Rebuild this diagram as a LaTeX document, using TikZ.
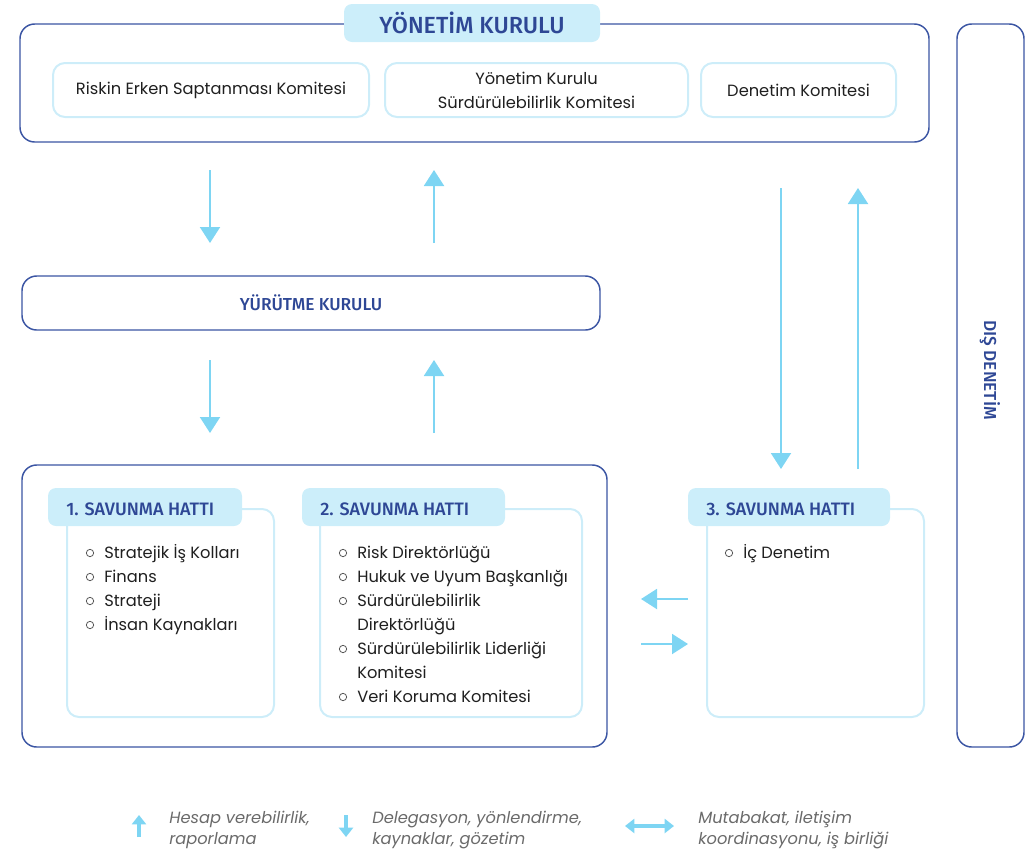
\documentclass[tikz,border=0pt]{standalone}
\usepackage{fontspec}
\setmainfont{Poppins}
\newfontfamily\hdr{Fira Sans}[UprightFont=* Medium]
\usetikzlibrary{arrows.meta,fit}
\definecolor{navy}{HTML}{2E4795}
\definecolor{navyline}{HTML}{3B55A3}
\definecolor{tabfill}{HTML}{CCEEFA}
\definecolor{lite}{HTML}{CDEDF9}
\definecolor{arrowc}{HTML}{7ED5F3}
\definecolor{txt}{HTML}{1F1F1F}
\definecolor{legtxt}{HTML}{6A6A6A}
\definecolor{bulc}{HTML}{555555}
\begin{document}
\begin{tikzpicture}[x=0.75pt,y=-0.75pt,
  navybox/.style={draw=navyline,line width=1.1pt,rounded corners=11pt,inner sep=0pt},
  litebox/.style={draw=lite,line width=1.5pt,rounded corners=9pt,inner sep=0pt},
  tabbox/.style={fill=tabfill,rounded corners=6pt,inner sep=0pt},
  flow/.style={draw=arrowc,line width=1.5pt,-{Triangle[width=15pt,length=12pt]}},
  legarrow/.style={draw=arrowc,line width=3pt,-{Triangle[width=10.5pt,length=7pt]}},
  legdouble/.style={draw=arrowc,line width=3pt,{Triangle[width=10.5pt,length=7pt]}-{Triangle[width=10.5pt,length=7pt]}},
  title/.style={font=\hdr\fontsize{17.5}{20}\selectfont,text=navy},
  head/.style={font=\hdr\fontsize{13.5}{16}\selectfont,text=navy,anchor=west,inner sep=0pt},
  body/.style={font=\fontsize{12.2}{18}\selectfont,text=txt,align=center},
  item/.style={font=\fontsize{12.2}{18}\selectfont,text=txt,anchor=base west,inner sep=0pt},
  bul/.style={circle,draw=bulc,line width=0.6pt,minimum size=5.5pt,inner sep=0pt},
  leg/.style={font=\itshape\fontsize{12.2}{15.75}\selectfont,text=legtxt,anchor=base west,inner sep=0pt}
]
\useasboundingbox (0,0) rectangle (1029,850);

% Yonetim Kurulu
\node[navybox,fit={(20,24)(929,142)}] (yk) {};
\node[tabbox,fit={(344,4)(600,42)}] (yktab) {};
\node[title] at (yktab) {YÖNETİM KURULU};
\node[litebox,fit={(53,63)(369,117)}] (c1) {};
\node[body] at (c1) {Riskin Erken Saptanması Komitesi};
\node[litebox,fit={(385,63)(688,117)}] (c2) {};
\node[body] at (c2) {Yönetim Kurulu\\Sürdürülebilirlik Komitesi};
\node[litebox,fit={(701,63)(896,117)}] (c3) {};
\node[body] at (c3) {Denetim Komitesi};

% Dis denetim
\node[navybox,fit={(957,24)(1024,747)}] (dis) {};
\node[rotate=-90,font=\hdr\fontsize{13}{15}\selectfont,text=navy] at (990,370) {DIŞ DENETİM};

% Yurutme Kurulu
\node[navybox,fit={(22,276)(600,330)}] (yur) {};
\node[font=\hdr\fontsize{13}{15}\selectfont,text=navy] at (311,303) {YÜRÜTME KURULU};

% bottom group
\node[navybox,fit={(22,465)(607,747)}] (grp) {};

% 1. savunma
\node[litebox,fit={(67,509)(274,717)}] (s1) {};
\node[tabbox,fit={(48,488)(242,526)}] (s1tab) {};
\node[head] at (66,509) {1. SAVUNMA HATTI};
\node[bul] (b11) at (90,553) {}; \node[item] at (104,558) {Stratejik İş Kolları};
\node[bul] (b12) at (90,577) {}; \node[item] at (104,582) {Finans};
\node[bul] (b13) at (90,601) {}; \node[item] at (104,606) {Strateji};
\node[bul] (b14) at (90,625) {}; \node[item] at (104,630) {İnsan Kaynakları};

% 2. savunma
\node[litebox,fit={(320,509)(582,717)}] (s2) {};
\node[tabbox,fit={(302,488)(505,526)}] (s2tab) {};
\node[head] at (320,509) {2. SAVUNMA HATTI};
\node[bul] (b21) at (343,553) {}; \node[item] at (357,558) {Risk Direktörlüğü};
\node[bul] (b22) at (343,577) {}; \node[item] at (357,582) {Hukuk ve Uyum Başkanlığı};
\node[bul] (b23) at (343,601) {}; \node[item] at (357,606) {Sürdürülebilirlik};
\node[item] at (357,630) {Direktörlüğü};
\node[bul] (b24) at (343,649) {}; \node[item] at (357,654) {Sürdürülebilirlik Liderliği};
\node[item] at (357,678) {Komitesi};
\node[bul] (b25) at (343,697) {}; \node[item] at (357,702) {Veri Koruma Komitesi};

% 3. savunma
\node[litebox,fit={(707,509)(924,717)}] (s3) {};
\node[tabbox,fit={(688,488)(890,526)}] (s3tab) {};
\node[head] at (706,509) {3. SAVUNMA HATTI};
\node[bul] (b31) at (729,553) {}; \node[item] at (743,558) {İç Denetim};

% flow arrows
\coordinate (d1s) at (210,170); \coordinate (d1e) at (210,243);
\coordinate (u1s) at (434,243); \coordinate (u1e) at (434,170);
\coordinate (d2s) at (210,360); \coordinate (d2e) at (210,433);
\coordinate (u2s) at (434,433); \coordinate (u2e) at (434,360);
\coordinate (d3s) at (781,188); \coordinate (d3e) at (781,469);
\coordinate (u3s) at (858,469); \coordinate (u3e) at (858,188);
\coordinate (l1s) at (688,599); \coordinate (l1e) at (641,599);
\coordinate (r1s) at (641,644); \coordinate (r1e) at (688,644);
\draw[flow] (d1s) -- (d1e);
\draw[flow] (u1s) -- (u1e);
\draw[flow] (d2s) -- (d2e);
\draw[flow] (u2s) -- (u2e);
\draw[flow] (d3s) -- (d3e);
\draw[flow] (u3s) -- (u3e);
\draw[flow] (l1s) -- (l1e);
\draw[flow] (r1s) -- (r1e);

% legend
\coordinate (la1) at (139,837); \coordinate (la2) at (139,815);
\draw[legarrow] (la1) -- (la2);
\node[leg] at (169,823) {Hesap verebilirlik,};
\node[leg] at (169,844) {raporlama};
\coordinate (lb1) at (346,815); \coordinate (lb2) at (346,837);
\draw[legarrow] (lb1) -- (lb2);
\node[leg] at (372,823) {Delegasyon, yönlendirme,};
\node[leg] at (372,844) {kaynaklar, gözetim};
\coordinate (lc1) at (625,826); \coordinate (lc2) at (674,826);
\draw[legdouble] (lc1) -- (lc2);
\node[leg] at (698,823) {Mutabakat, iletişim};
\node[leg] at (698,844) {koordinasyonu, iş birliği};
\end{tikzpicture}
\end{document}
